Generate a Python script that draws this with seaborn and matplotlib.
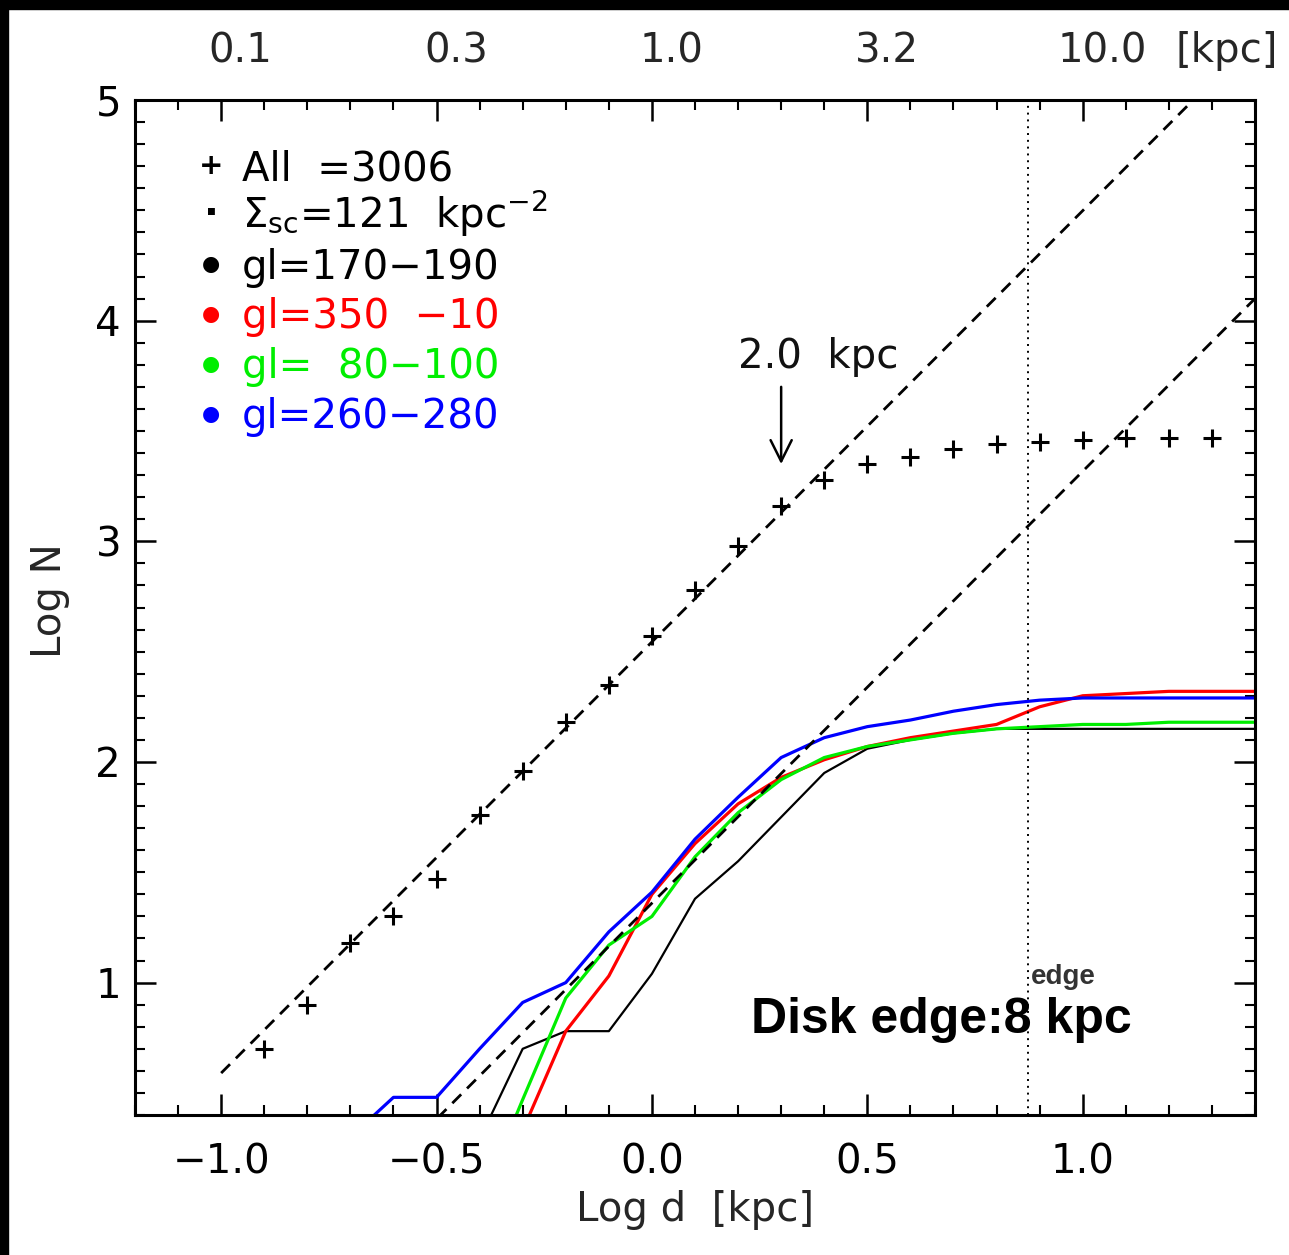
import numpy as np
import pandas as pd
import matplotlib
matplotlib.use("Agg")
import matplotlib.pyplot as plt
import seaborn as sns
from matplotlib.patches import Rectangle
from matplotlib.ticker import MultipleLocator

sns.set_theme(style="ticks")
plt.rcParams['font.family'] = ['DejaVu Sans']
plt.rcParams['mathtext.fontset'] = 'dejavusans'

# ---------------- data ----------------
all_logd = [-0.9, -0.8, -0.7, -0.6, -0.5, -0.4, -0.3, -0.2, -0.1, 0.0, 0.1, 0.2,
            0.3, 0.4, 0.5, 0.6, 0.7, 0.8, 0.9, 1.0, 1.1, 1.2, 1.3]
all_logn = [0.70, 0.90, 1.18, 1.30, 1.47, 1.76, 1.96, 2.18, 2.35, 2.57, 2.78, 2.98,
            3.16, 3.28, 3.35, 3.38, 3.42, 3.44, 3.45, 3.46, 3.47, 3.47, 3.47]

black_logd = [-0.4, -0.3, -0.2, -0.1, 0.0, 0.1, 0.2, 0.3, 0.4, 0.5, 0.6, 0.7, 0.8,
              0.9, 1.0, 1.1, 1.2, 1.3, 1.4]
black_logn = [0.29, 0.70, 0.78, 0.78, 1.04, 1.38, 1.55, 1.75, 1.95, 2.06, 2.10, 2.13,
              2.15, 2.15, 2.15, 2.15, 2.15, 2.15, 2.15]

red_logd = [-0.3, -0.2, -0.1, 0.0, 0.1, 0.2, 0.3, 0.4, 0.5, 0.6, 0.7, 0.8, 0.9,
            1.0, 1.1, 1.2, 1.3, 1.4]
red_logn = [0.33, 0.78, 1.03, 1.40, 1.63, 1.81, 1.93, 2.01, 2.07, 2.11, 2.14, 2.17,
            2.25, 2.30, 2.31, 2.32, 2.32, 2.32]

green_logd = [-0.4, -0.3, -0.2, -0.1, 0.0, 0.1, 0.2, 0.3, 0.4, 0.5, 0.6, 0.7, 0.8,
              0.9, 1.0, 1.1, 1.2, 1.3, 1.4]
green_logn = [0.0, 0.47, 0.93, 1.17, 1.30, 1.57, 1.77, 1.92, 2.02, 2.07, 2.10, 2.13,
              2.15, 2.16, 2.17, 2.17, 2.18, 2.18, 2.18]

blue_logd = [-0.7, -0.6, -0.5, -0.4, -0.3, -0.2, -0.1, 0.0, 0.1, 0.2, 0.3, 0.4, 0.5,
             0.6, 0.7, 0.8, 0.9, 1.0, 1.1, 1.2, 1.3, 1.4]
blue_logn = [0.30, 0.48, 0.48, 0.70, 0.91, 1.00, 1.23, 1.41, 1.65, 1.84, 2.02, 2.11,
             2.16, 2.19, 2.23, 2.26, 2.28, 2.29, 2.29, 2.29, 2.29, 2.29]

# model lines (end points)
model1_logd = [-1.0, 1.4]
model1_logn = [0.59, 5.28]
model2_logd = [-0.6, 1.4]
model2_logn = [0.186, 4.10]

edge_logd = 0.873
arrow_logd = 0.30

top_tick_pos = [-1.0, -0.5, 0.0, 0.5, 1.0]
top_tick_labels = ["0.1", "0.3", "1.0", "3.2", "10.0"]

legend_labels = ["All  =3006",
                 r"$\Sigma_{\rm sc}$=121  kpc$^{-2}$",
                 "gl=170−190",
                 "gl=350  −10",
                 "gl=  80−100",
                 "gl=260−280"]
legend_markers = ["+", "·", "●", "●", "●", "●"]
legend_colors = ["black", "black", "black", "#ff0000", "#00ee00", "#0000ff"]

# ---------------- figure ----------------
W, H = 1289, 1255
fig = plt.figure(figsize=(W / 100, H / 100), dpi=100)
fig.patch.set_facecolor("white")
ax = fig.add_axes([135 / W, 1 - 1115 / H, 1120 / W, 1015 / H])
ax.set_facecolor("white")

FS = 29

curves = [(black_logd, black_logn, "black", 1.6),
          (red_logd, red_logn, "#ff0000", 2.3),
          (green_logd, green_logn, "#00ee00", 2.3),
          (blue_logd, blue_logn, "#0000ff", 2.3)]
for xs, ys, c, lw in curves:
    df = pd.DataFrame({"logd": xs, "logn": ys})
    sns.lineplot(data=df, x="logd", y="logn", color=c, lw=lw, ax=ax,
                 sort=False, estimator=None, legend=False)

for xs, ys in [(model1_logd, model1_logn), (model2_logd, model2_logn)]:
    df = pd.DataFrame({"logd": xs, "logn": ys})
    sns.lineplot(data=df, x="logd", y="logn", color="black", lw=2.0, ax=ax,
                 sort=False, estimator=None, legend=False)
    ax.lines[-1].set_dashes((4.5, 3))

sns.scatterplot(x=all_logd, y=all_logn, marker="+", s=180, color="black",
                linewidth=2.2, ax=ax, legend=False, zorder=5)

ax.axvline(edge_logd, color="black", lw=1.4, ls=(0, (1, 2.5)))

ax.annotate("", xy=(arrow_logd, 3.35), xytext=(arrow_logd, 3.70),
            arrowprops=dict(arrowstyle="->", lw=1.8, color="black",
                            mutation_scale=38, shrinkA=0, shrinkB=0))
ax.text(0.387, 3.787, "2.0  kpc", fontsize=FS, ha="center", va="baseline",
        color="#111111")

ax.text(0.88, 0.995, "edge", fontsize=20, fontweight="bold", ha="left",
        va="baseline", family="Liberation Sans", color="#333333")
ax.text(0.229, 0.77, "Disk edge:8 kpc", fontsize=36, fontweight="bold",
        ha="left", va="baseline", family="Liberation Sans", color="black")

# legend rows as text
row_base = [0.921, 0.874, 0.824, 0.775, 0.726, 0.677]
for i, (lab, mk, c) in enumerate(zip(legend_labels, legend_markers, legend_colors)):
    ax.text(0.0955, row_base[i], lab, transform=ax.transAxes, fontsize=FS,
            ha="left", va="baseline", color=c)
    msize = {"+": 21, "·": 28, "●": 15}[mk]
    mw = "bold" if mk in "+·" else "normal"
    ax.text(0.068, row_base[i] + 0.014, mk, transform=ax.transAxes,
            fontsize=msize, fontweight=mw, ha="center", va="center", color=c)

# axes limits / ticks
ax.set_xlim(-1.2, 1.4)
ax.set_ylim(0.4, 5.0)
ax.xaxis.set_major_locator(MultipleLocator(0.5))
ax.xaxis.set_minor_locator(MultipleLocator(0.1))
ax.yaxis.set_major_locator(MultipleLocator(1.0))
ax.yaxis.set_minor_locator(MultipleLocator(0.1))
ax.xaxis.set_major_formatter(matplotlib.ticker.FuncFormatter(
    lambda v, p: f"{v:.1f}".replace("-", "−")))
ax.yaxis.set_major_formatter(matplotlib.ticker.FuncFormatter(
    lambda v, p: f"{v:.0f}"))
ax.tick_params(which="both", direction="in", top=True, right=True,
               labelsize=FS, colors="black")
ax.tick_params(which="major", length=15, width=1.8)
ax.tick_params(which="minor", length=7.5, width=1.5)
ax.tick_params(axis="x", which="major", pad=20)
ax.tick_params(axis="y", which="major", pad=10)
for sp in ax.spines.values():
    sp.set_linewidth(2.2)
    sp.set_color("black")

ax.set_xlabel("Log d  [kpc]", fontsize=FS)
ax.set_ylabel("Log N", fontsize=FS)
ax.xaxis.set_label_coords(0.5, -0.074)
ax.yaxis.set_label_coords(-0.058, 0.507)

# top axis labels (distance in kpc)
xt = ax.get_xaxis_transform()
for pos, lab in zip(top_tick_pos, top_tick_labels):
    ax.text(pos + 0.045, 1.0374, lab, transform=xt, fontsize=FS,
            ha="center", va="baseline", clip_on=False)
ax.text(1.335, 1.0374, "[kpc]", transform=xt, fontsize=FS, ha="center",
        va="baseline", clip_on=False)

# black frame strips of the original screenshot
fig.patches.append(Rectangle((0, 1 - 9 / H), 1, 9 / H, transform=fig.transFigure,
                             color="black", zorder=10))
fig.patches.append(Rectangle((0, 0), 8 / W, 1, transform=fig.transFigure,
                             color="black", zorder=10))

fig.savefig("out.png", dpi=100)
